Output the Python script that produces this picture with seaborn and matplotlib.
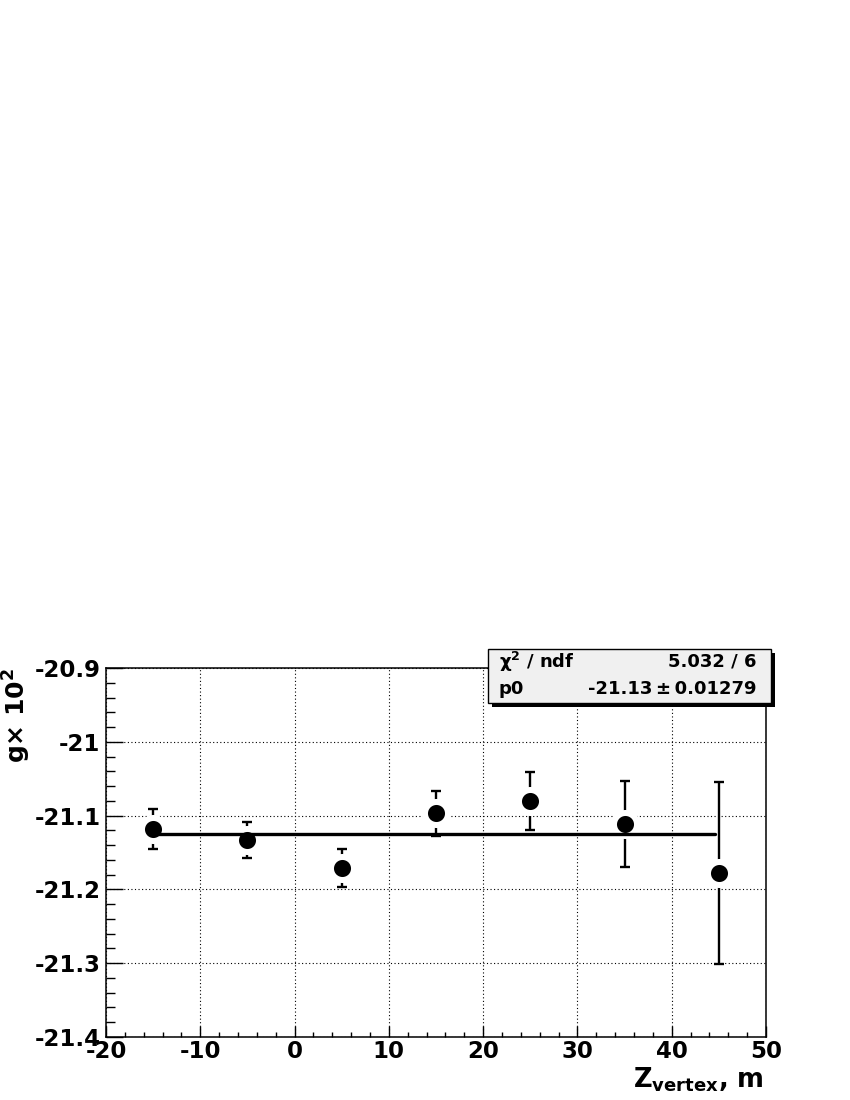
import numpy as np
import pandas as pd
import matplotlib
matplotlib.use("Agg")
import matplotlib.pyplot as plt
from matplotlib.ticker import MultipleLocator, FixedLocator, FixedFormatter
from matplotlib.patches import Rectangle
import seaborn as sns

# ---- data ----
z_vertex = [-15, -5, 5, 15, 25, 35, 45]
g_values = [-21.118, -21.133, -21.171, -21.097, -21.080, -21.111, -21.178]
g_errors = [0.027, 0.025, 0.026, 0.031, 0.039, 0.058, 0.123]
fit_p0 = -21.125
fit_range = [-15, 44.6]
xtick_values = [-20, -10, 0, 10, 20, 30, 40, 50]
xtick_labels = ["-20", "-10", "0", "10", "20", "30", "40", "50"]
ytick_values = [-21.4, -21.3, -21.2, -21.1, -21.0, -20.9]
ytick_labels = ["-21.4", "-21.3", "-21.2", "-21.1", "-21", "-20.9"]
stat_rows = [(r"$\chi^{\mathbf{2}}$ / ndf", "5.032 / 6"),
             ("p0", "-21.13\u2009\u00b1\u20090.01279")]

sns.set_style("white")
plt.rcParams["font.family"] = ["DejaVu Sans"]
plt.rcParams["font.weight"] = "bold"
plt.rcParams["mathtext.fontset"] = "dejavusans"
plt.rcParams["mathtext.default"] = "bf"
plt.rcParams["text.color"] = "black"
plt.rcParams["xtick.color"] = "black"
plt.rcParams["ytick.color"] = "black"
plt.rcParams["xtick.labelcolor"] = "black"
plt.rcParams["ytick.labelcolor"] = "black"

W, H = 850, 1100
fig = plt.figure(figsize=(8.5, 11), dpi=100)
ax = fig.add_axes([106 / W, 1 - 1037 / H, 660 / W, 369 / H])

df = pd.DataFrame({"z": z_vertex, "g": g_values, "err": g_errors})

# error bars
ax.errorbar(df["z"], df["g"], yerr=df["err"], fmt="none", ecolor="black",
            elinewidth=1.7, capsize=3.6, capthick=1.7, zorder=3)
# markers (white ring produces the ROOT-style gap in the error bar)
sns.scatterplot(data=df, x="z", y="g", ax=ax, s=275, color="black",
                edgecolor="white", linewidth=4.3, zorder=4, legend=False)
# fit line
fit_df = pd.DataFrame({"z": fit_range, "g": [fit_p0, fit_p0]})
sns.lineplot(data=fit_df, x="z", y="g", ax=ax, color="black", linewidth=2.4,
             zorder=5, legend=False)

ax.set_xlim(-20, 50)
ax.set_ylim(-21.4, -20.9)
ax.set_xlabel("")
ax.set_ylabel("")

ax.xaxis.set_major_locator(FixedLocator(xtick_values))
ax.xaxis.set_major_formatter(FixedFormatter(xtick_labels))
ax.xaxis.set_minor_locator(MultipleLocator(2))
ax.yaxis.set_major_locator(FixedLocator(ytick_values))
ax.yaxis.set_major_formatter(FixedFormatter(ytick_labels))
ax.yaxis.set_minor_locator(MultipleLocator(0.02))

ax.tick_params(axis="both", which="both", direction="in", color="black",
               top=False, right=False, left=True, bottom=True)
ax.tick_params(axis="y", which="major", length=12, width=1.0, pad=4,
               labelsize=16.5, labelcolor="black")
ax.tick_params(axis="y", which="minor", length=6.5, width=1.0)
ax.tick_params(axis="x", which="major", length=8, width=1.0, pad=2,
               labelsize=16.5, labelcolor="black")
ax.tick_params(axis="x", which="minor", length=3.5, width=1.0)
for lab in ax.get_xticklabels() + ax.get_yticklabels():
    lab.set_fontweight("bold")

ax.grid(True, which="major", color="black", linestyle=(0, (1, 2.2)),
        linewidth=0.8)
ax.set_axisbelow(True)
for sp in ax.spines.values():
    sp.set_visible(True)
    sp.set_color("black")
    sp.set_linewidth(1.1)

# axis titles
fig.text(17 / W, 1 - 668 / H, "g\u00d7 10$^{\\mathbf{2}}$", rotation=90,
         ha="center", va="top", fontsize=18, fontweight="bold", color="black")
fig.text(764 / W, 1 - 1087 / H, "Z$_{\\mathbf{vertex}}$, m", ha="right",
         va="baseline", fontsize=18.5, fontweight="bold", color="black")

# stats box with shadow
bx0, by0, bx1, by1 = 488, 649, 771, 703
sh = 4
fig.patches.append(Rectangle(((bx0 + sh) / W, 1 - (by1 + sh) / H),
                             (bx1 - bx0) / W, (by1 - by0) / H,
                             transform=fig.transFigure, facecolor="black",
                             edgecolor="none", zorder=10))
fig.patches.append(Rectangle((bx0 / W, 1 - by1 / H), (bx1 - bx0) / W,
                             (by1 - by0) / H, transform=fig.transFigure,
                             facecolor="#f0f0f0", edgecolor="black",
                             linewidth=1.0, zorder=11))
row_y = [662, 689]
for (left, right), yy in zip(stat_rows, row_y):
    fig.text(499 / W, 1 - yy / H, left, ha="left", va="center",
             fontsize=13, fontweight="bold", zorder=12, color="black")
    fig.text(756 / W, 1 - yy / H, right, ha="right", va="center",
             fontsize=13, fontweight="bold", zorder=12, color="black")

fig.savefig("out.png", dpi=100, facecolor="white")
